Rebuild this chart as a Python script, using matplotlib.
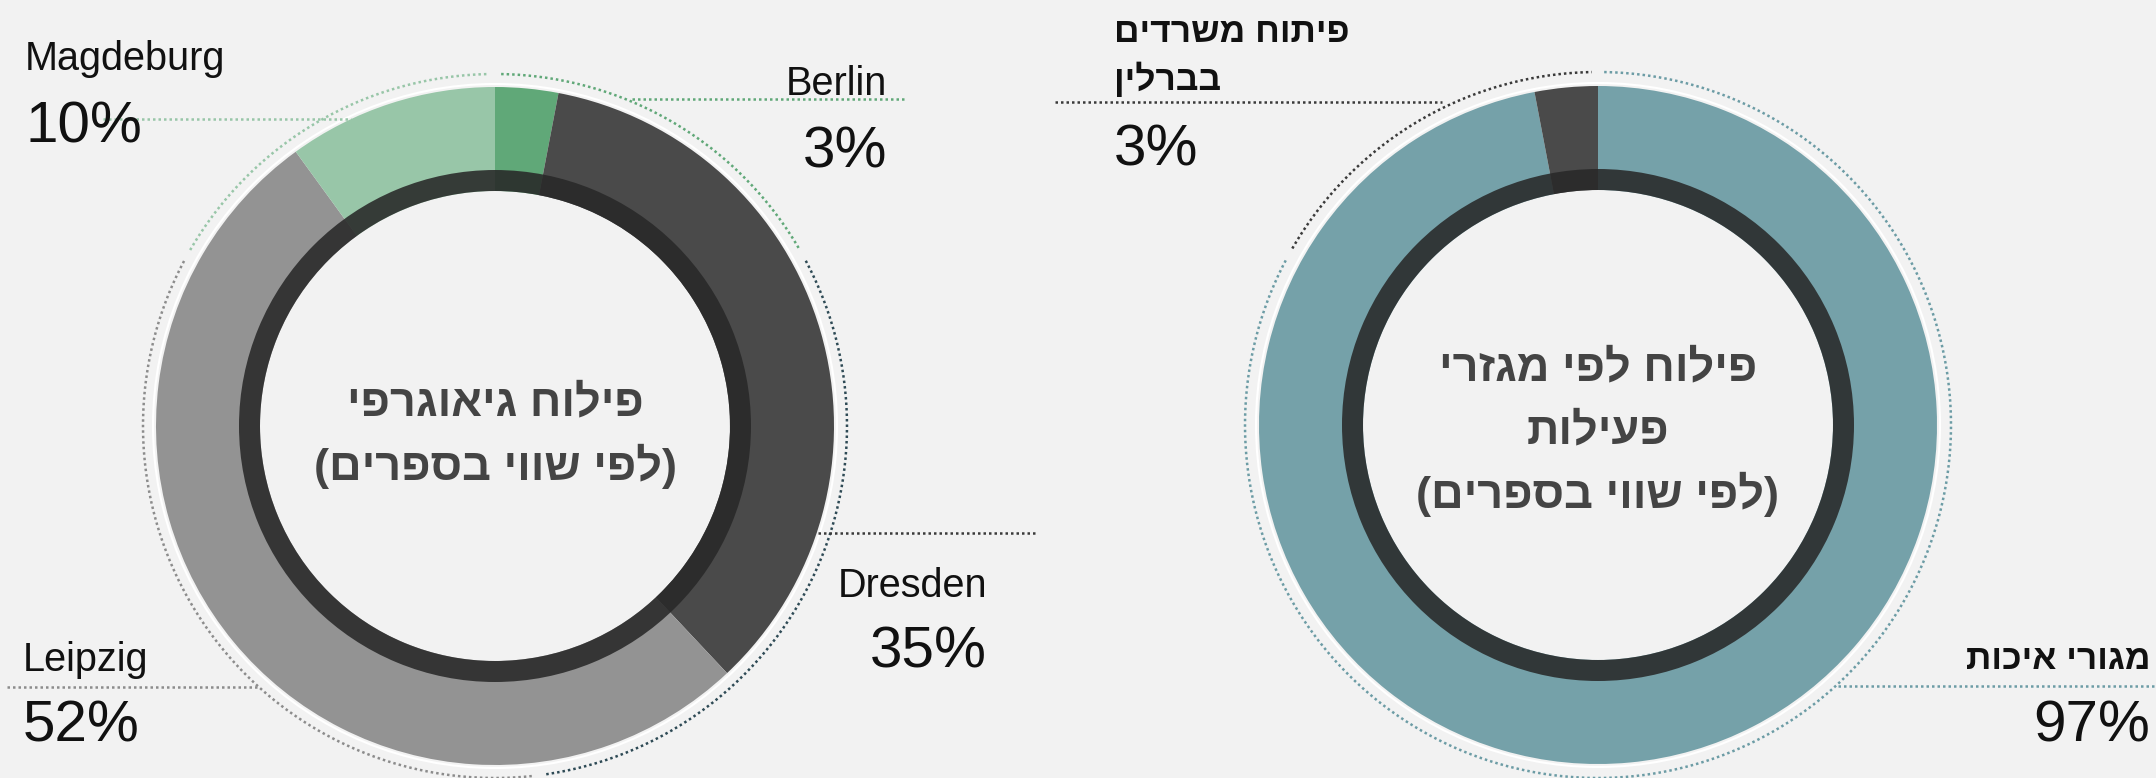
import matplotlib
import matplotlib.pyplot as plt
import numpy as np
from matplotlib import patches

matplotlib.use('Agg')

W, H = 2156, 778

# data
geo_labels = ['Berlin', 'Dresden', 'Leipzig', 'Magdeburg']
geo_values = [3, 35, 52, 10]
geo_colors = ['#60a878', '#4a4a4a', '#939393', '#98c6a8']
geo_title = ['פילוח גיאוגרפי', '(לפי שווי בספרים)']

sector_labels = ['מגורי איכות', 'פיתוח משרדים\nבברלין']
sector_values = [97, 3]
sector_colors = ['#75a1a9', '#4a4a4a']
sector_title = ['פילוח לפי מגזרי', 'פעילות', '(לפי שווי בספרים)']

BG = '#f2f2f2'
plt.rcParams['font.family'] = ['Liberation Sans', 'DejaVu Sans']


def rtl(s):
    # matplotlib has no bidi, so flip Hebrew to visual order
    return s[::-1].translate(str.maketrans('()', ')('))


def y(v):
    return H - v


def dotted(ax, xs, ys, color):
    ax.plot(xs, ys, color=color, lw=1.8, linestyle=(0, (1, 1.2)),
            dash_capstyle='butt', solid_capstyle='butt')


def guide_arc(ax, cx, cy, r, a1, a2, color):
    # angles measured clockwise from 12 o'clock
    t = np.radians(90 - np.linspace(a1, a2, 200))
    dotted(ax, cx + r * np.cos(t), cy + r * np.sin(t), color)


def donut(ax, cx, cy, values, colors):
    ax.pie(values, colors=colors, startangle=90, counterclock=False,
           radius=339, center=(cx, cy), frame=True,
           wedgeprops=dict(width=104, linewidth=0))
    ax.add_patch(patches.Circle((cx, cy), 342, fill=False, ec='white', lw=1.5))
    ax.add_patch(patches.Annulus((cx, cy), 256, 21, color='#282828', alpha=0.88, lw=0))


fig = plt.figure(figsize=(W / 100, H / 100), dpi=100, facecolor=BG)
ax = fig.add_axes([0, 0, 1, 1])
ax.set_facecolor(BG)

# left donut: geography
lcx, lcy = 495, y(426)
donut(ax, lcx, lcy, geo_values, geo_colors)
for (a1, a2), c in zip([(1, 60), (62, 172), (174, 298), (300, 359)],
                       ['#60a878', '#2e4a55', '#8c8c8c', '#98c6a8']):
    guide_arc(ax, lcx, lcy, 352, a1, a2, c)

dotted(ax, [632, 907], [y(99), y(99)], '#60a878')
dotted(ax, [818, 1035], [y(533), y(533)], '#3a3a3a')
dotted(ax, [7, 258], [y(687), y(687)], '#8c8c8c')
dotted(ax, [103, 351], [y(119), y(119)], '#98c6a8')

lab = dict(color='#111111', fontsize=28.5, va='baseline')
pct = dict(color='#111111', fontsize=42, va='baseline')
ax.text(887, y(95), geo_labels[0], ha='right', **lab)
ax.text(887, y(167), f'{geo_values[0]}%', ha='right', **pct)
ax.text(987, y(597), geo_labels[1], ha='right', **lab)
ax.text(987, y(668), f'{geo_values[1]}%', ha='right', **pct)
ax.text(23, y(671), geo_labels[2], ha='left', **lab)
ax.text(23, y(742), f'{geo_values[2]}%', ha='left', **pct)
ax.text(25, y(70), geo_labels[3], ha='left', **lab)
ax.text(25, y(142), f'{geo_values[3]}%', ha='left', **pct)

ttl = dict(color='#444444', fontsize=32.5, fontweight='bold', ha='center', va='baseline')
ax.text(lcx, y(415), rtl(geo_title[0]), **ttl)
ax.text(lcx, y(480), rtl(geo_title[1]), **ttl)

# right donut: sectors
rcx, rcy = 1598, y(425)
donut(ax, rcx, rcy, sector_values, sector_colors)
guide_arc(ax, rcx, rcy, 353, 1, 298, '#6c9ca5')
guide_arc(ax, rcx, rcy, 353, 300, 359, '#3a3a3a')

dotted(ax, [1055, 1442], [y(102), y(102)], '#3a3a3a')
dotted(ax, [1838, W], [y(686), y(686)], '#6c9ca5')

top1, top2 = sector_labels[1].split('\n')
heb = dict(color='#111111', fontsize=25.5, fontweight='bold', va='baseline')
ax.text(1114, y(42), rtl(top1), ha='left', **heb)
ax.text(1114, y(90), rtl(top2), ha='left', **heb)
ax.text(1114, y(165), f'{sector_values[1]}%', ha='left', **pct)
ax.text(2150, y(669), rtl(sector_labels[0]), ha='right', **heb)
ax.text(2150, y(742), f'{sector_values[0]}%', ha='right', **pct)

ax.text(rcx, y(380), rtl(sector_title[0]), **ttl)
ax.text(rcx, y(443), rtl(sector_title[1]), **ttl)
ax.text(rcx, y(508), rtl(sector_title[2]), **ttl)

ax.set_xlim(0, W)
ax.set_ylim(0, H)
ax.set_aspect('equal')
ax.axis('off')

fig.savefig('out.png', dpi=100, facecolor=BG)
